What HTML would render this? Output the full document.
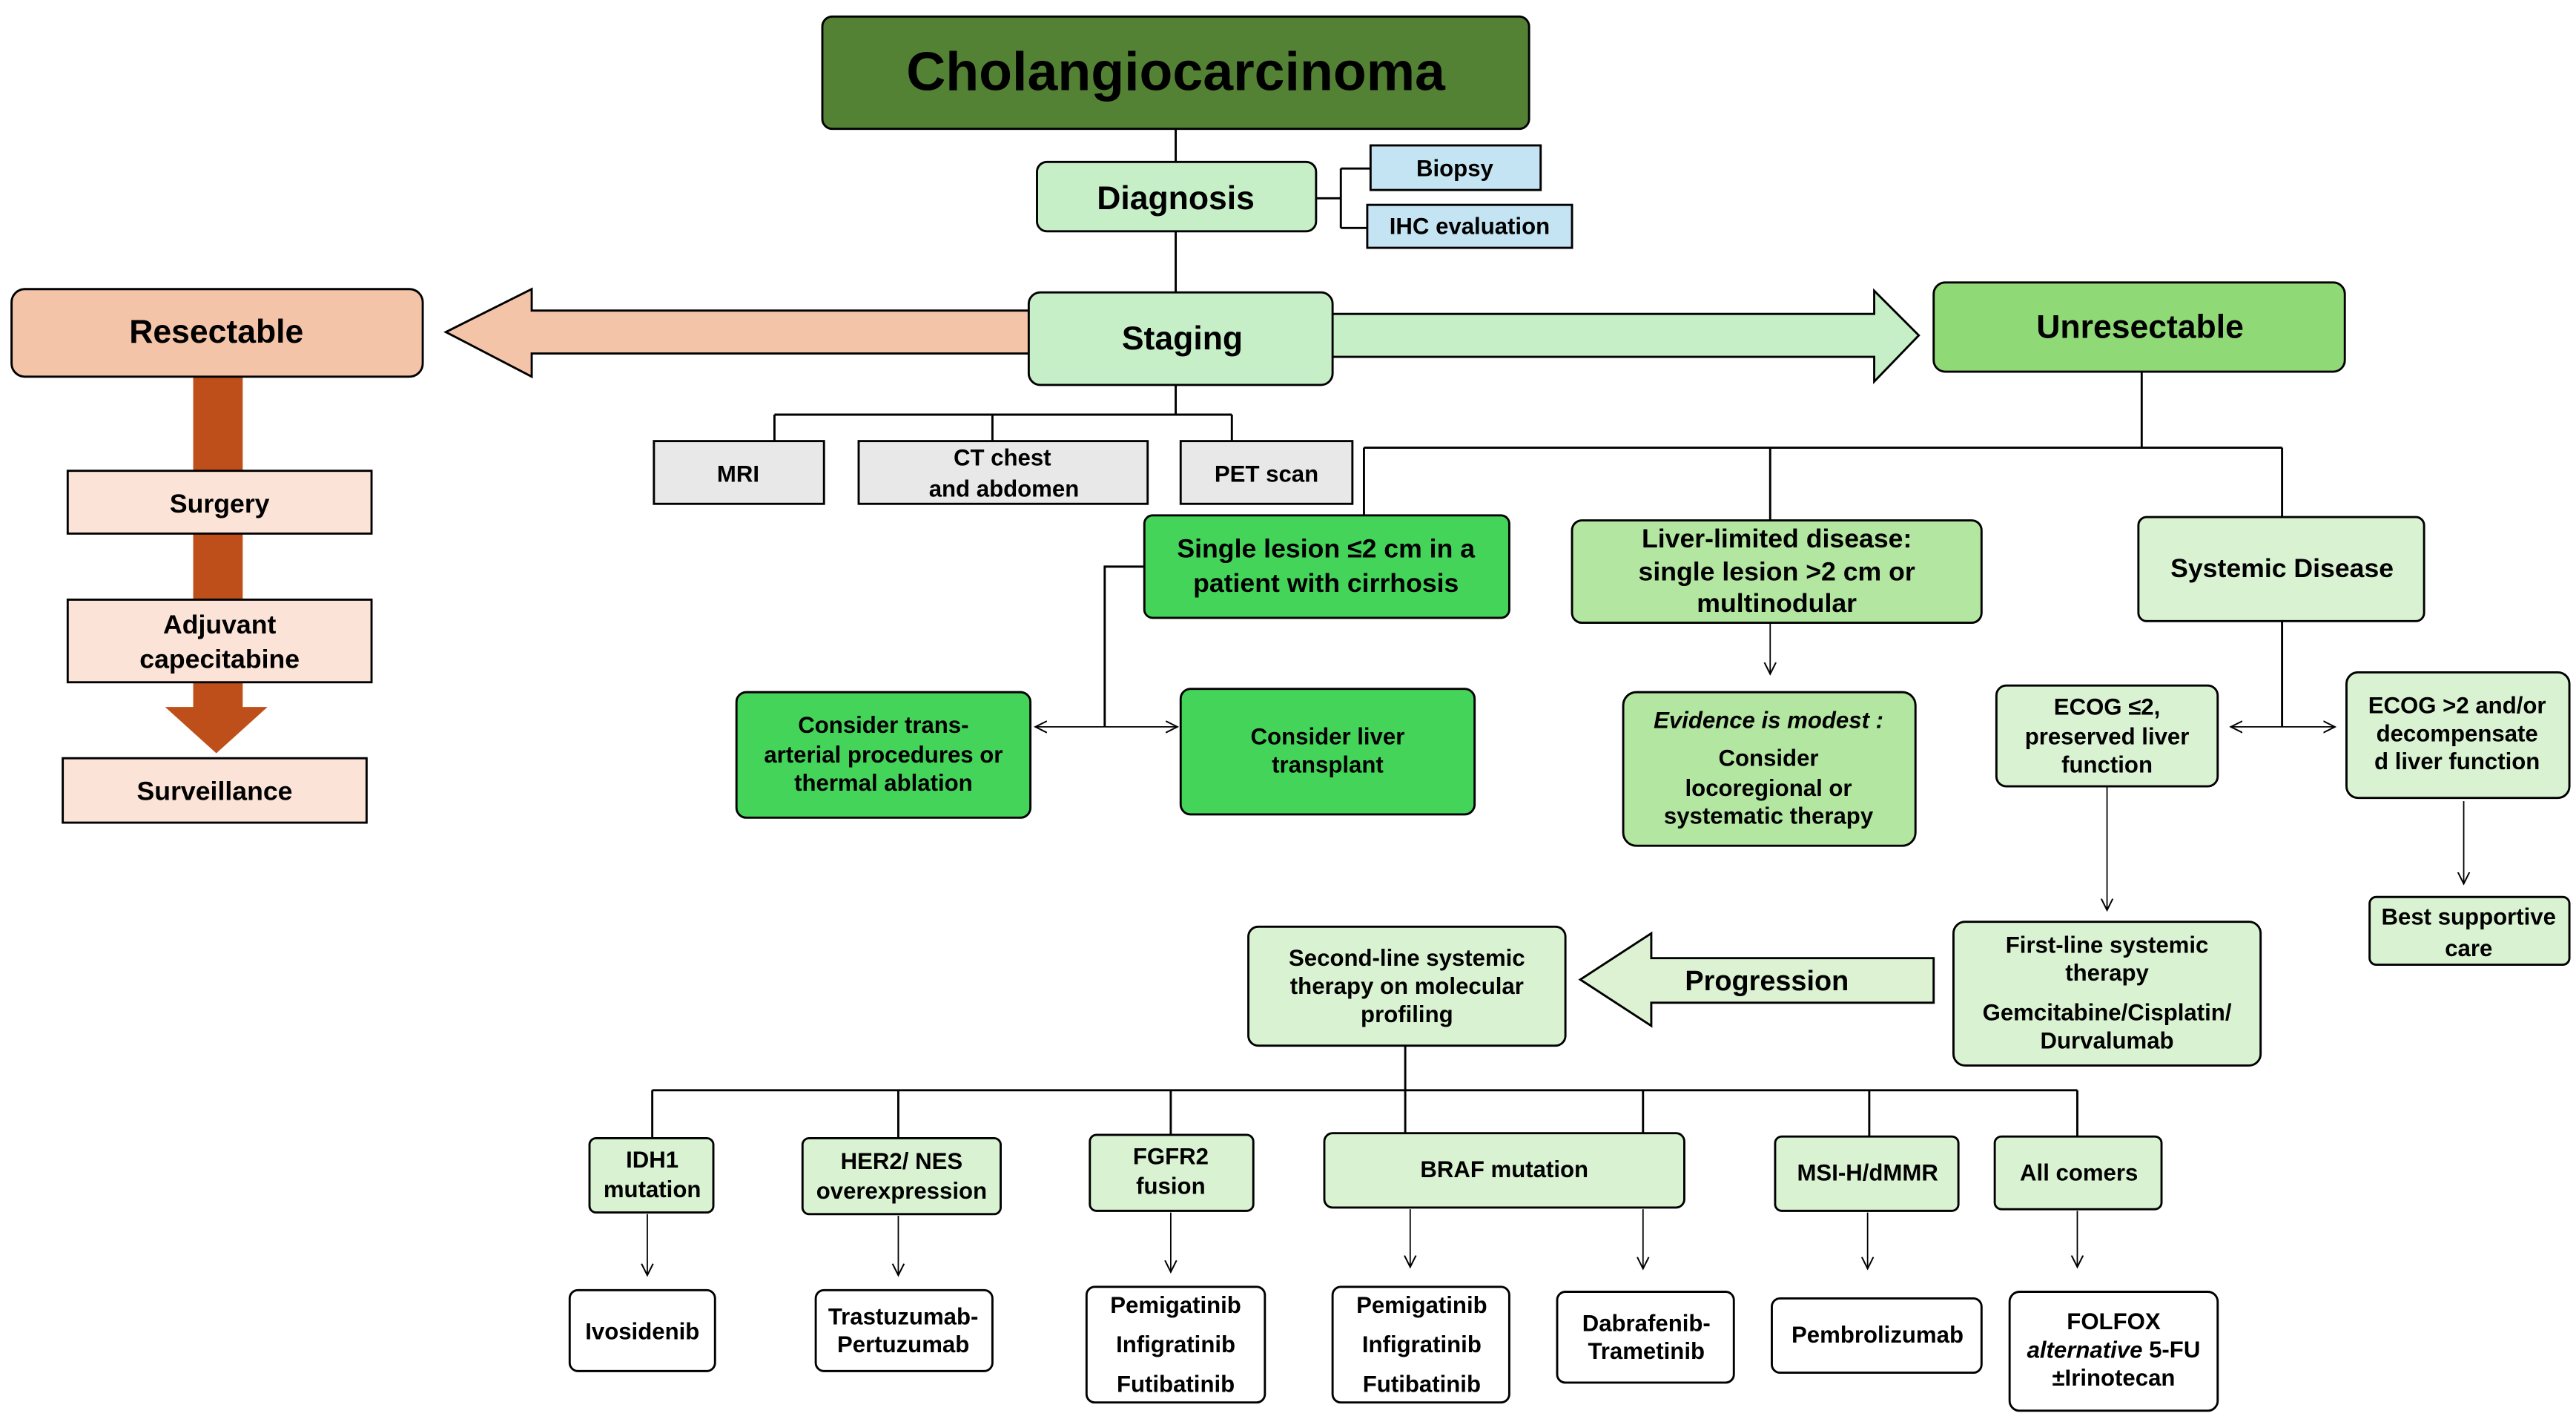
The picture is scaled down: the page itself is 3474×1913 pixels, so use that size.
<!DOCTYPE html>
<html><head><meta charset="utf-8"><style>
html,body{margin:0;padding:0;background:#fff;}
svg{display:block;}
text{font-family:"Liberation Sans","DejaVu Sans",sans-serif;font-weight:bold;fill:#000;text-anchor:middle;dominant-baseline:central;}
.b{stroke:#000;stroke-width:1.3;}
.l{stroke:#000;stroke-width:1.3;fill:none;}
.t{stroke:#000;stroke-width:0.8;fill:none;}
</style></head><body>
<svg width="3474" height="1913" viewBox="0 0 1560 859" xmlns="http://www.w3.org/2000/svg">
<defs><marker id="a" markerWidth="8" markerHeight="8" refX="7" refY="4" orient="auto" markerUnits="userSpaceOnUse"><path d="M0,0.5 L7,4 L0,7.5" fill="none" stroke="#000" stroke-width="0.9"/></marker></defs>

<!-- connectors -->
<path class="l" d="M712,78V98M712,140V177M797,120H812M812,102V138M812,102H830M812,138H828"/>
<path class="l" d="M712,233V251M469,251H746M469,251V267M601,251V267M746,251V267"/>
<path class="l" d="M1297,225V271M826,271H1382M826,271V312M1072,271V315M1382,271V313"/>
<path class="l" d="M693,343H669V440"/>
<path class="t" d="M669,440H627" marker-end="url(#a)"/><path class="t" d="M669,440H713" marker-end="url(#a)"/>
<path class="t" d="M1072,377V408" marker-end="url(#a)"/>
<path class="l" d="M1382,376V440"/>
<path class="t" d="M1382,440H1351" marker-end="url(#a)"/><path class="t" d="M1382,440H1414" marker-end="url(#a)"/>
<path class="t" d="M1276,476V551" marker-end="url(#a)"/>
<path class="t" d="M1492,485V535" marker-end="url(#a)"/>
<path class="l" d="M851,633V688M395,660H1258M395,660V689M544,660V689M709,660V687M995,660V686M1132,660V688M1258,660V688"/>
<path class="t" d="M392,735V772" marker-end="url(#a)"/>
<path class="t" d="M544,736V772" marker-end="url(#a)"/>
<path class="t" d="M709,734V770" marker-end="url(#a)"/>
<path class="t" d="M854,732V767" marker-end="url(#a)"/>
<path class="t" d="M995,732V768" marker-end="url(#a)"/>
<path class="t" d="M1131,734V768" marker-end="url(#a)"/>
<path class="t" d="M1258,733V767" marker-end="url(#a)"/>

<!-- big arrows -->
<path class="b" fill="#f4c4a9" d="M630,188H322V175L270,201L322,228V214H630Z"/>
<path class="b" fill="#c6efc8" d="M800,190H1135V176L1162,203L1135,231V216H800Z"/>
<path fill="#bf4f1a" d="M117,228H147V428H162L131,456L100,428H117Z"/>
<path class="b" fill="#dcf2d2" d="M1171,580H1000V565L957,593L1000,621V607H1171Z"/>
<text x="1070" y="594" font-size="17">Progression</text>

<!-- top -->
<rect class="b" x="498" y="10" width="428" height="68" rx="6" fill="#548235"/>
<text x="712" y="43" font-size="33">Cholangiocarcinoma</text>
<rect class="b" x="628" y="98" width="169" height="42" rx="6" fill="#c6efc8"/>
<text x="712" y="120" font-size="20">Diagnosis</text>
<rect class="b" x="830" y="88" width="103" height="27" fill="#c5e4f3"/>
<text x="881" y="102" font-size="14">Biopsy</text>
<rect class="b" x="828" y="124" width="124" height="26" fill="#c5e4f3"/>
<text x="890" y="137" font-size="14">IHC evaluation</text>
<rect class="b" x="623" y="177" width="184" height="56" rx="7" fill="#c6efc8"/>
<text x="716" y="205" font-size="20">Staging</text>

<rect class="b" x="7" y="175" width="249" height="53" rx="8" fill="#f4c4a9"/>
<text x="131" y="201" font-size="20">Resectable</text>
<rect class="b" x="41" y="285" width="184" height="38" fill="#fbe4d7"/>
<text x="133" y="305" font-size="16">Surgery</text>
<rect class="b" x="41" y="363" width="184" height="50" fill="#fbe4d7"/>
<text x="133" y="378" font-size="16">Adjuvant</text>
<text x="133" y="399" font-size="16">capecitabine</text>
<rect class="b" x="38" y="459" width="184" height="39" fill="#fbe4d7"/>
<text x="130" y="479" font-size="16">Surveillance</text>

<rect class="b" x="396" y="267" width="103" height="38" fill="#e8e8e8"/>
<text x="447" y="287" font-size="14">MRI</text>
<rect class="b" x="520" y="267" width="175" height="38" fill="#e8e8e8"/>
<text x="607" y="277" font-size="14">CT chest</text>
<text x="608" y="296" font-size="14">and abdomen</text>
<rect class="b" x="715" y="267" width="104" height="38" fill="#e8e8e8"/>
<text x="767" y="287" font-size="14">PET scan</text>

<rect class="b" x="1171" y="171" width="249" height="54" rx="7" fill="#8fd977"/>
<text x="1296" y="198" font-size="20">Unresectable</text>

<rect class="b" x="693" y="312" width="221" height="62" rx="5" fill="#45d45a"/>
<text x="803" y="332" font-size="16">Single lesion ≤2 cm in a</text>
<text x="803" y="353" font-size="16">patient with cirrhosis</text>
<rect class="b" x="952" y="315" width="248" height="62" rx="6" fill="#b3e6a1"/>
<text x="1076" y="326" font-size="16">Liver-limited disease:</text>
<text x="1076" y="346" font-size="16">single lesion &gt;2 cm or</text>
<text x="1076" y="365" font-size="16">multinodular</text>
<rect class="b" x="1295" y="313" width="173" height="63" rx="5" fill="#d9f2d1"/>
<text x="1382" y="344" font-size="16">Systemic Disease</text>

<rect class="b" x="446" y="419" width="178" height="76" rx="6" fill="#45d45a"/>
<text x="535" y="439" font-size="14">Consider trans-</text>
<text x="535" y="457" font-size="14">arterial procedures or</text>
<text x="535" y="474" font-size="14">thermal ablation</text>
<rect class="b" x="715" y="417" width="178" height="76" rx="6" fill="#45d45a"/>
<text x="804" y="446" font-size="14">Consider liver</text>
<text x="804" y="463" font-size="14">transplant</text>
<rect class="b" x="983" y="419" width="177" height="93" rx="8" fill="#b3e6a1"/>
<text x="1071" y="436" font-size="14" font-style="italic">Evidence is modest :</text>
<text x="1071" y="459" font-size="14">Consider</text>
<text x="1071" y="477" font-size="14">locoregional or</text>
<text x="1071" y="494" font-size="14">systematic therapy</text>

<rect class="b" x="1209" y="415" width="134" height="61" rx="6" fill="#d9f2d1"/>
<text x="1276" y="428" font-size="14">ECOG ≤2,</text>
<text x="1276" y="446" font-size="14">preserved liver</text>
<text x="1276" y="463" font-size="14">function</text>
<rect class="b" x="1421" y="407" width="135" height="76" rx="7" fill="#d9f2d1"/>
<text x="1488" y="427" font-size="14">ECOG &gt;2 and/or</text>
<text x="1488" y="444" font-size="14">decompensate</text>
<text x="1488" y="461" font-size="14">d liver function</text>
<rect class="b" x="1435" y="543" width="121" height="41" rx="4" fill="#d9f2d1"/>
<text x="1495" y="555" font-size="14">Best supportive</text>
<text x="1495" y="574" font-size="14">care</text>
<rect class="b" x="1183" y="558" width="186" height="87" rx="7" fill="#d9f2d1"/>
<text x="1276" y="572" font-size="14">First-line systemic</text>
<text x="1276" y="589" font-size="14">therapy</text>
<text x="1276" y="613" font-size="14">Gemcitabine/Cisplatin/</text>
<text x="1276" y="630" font-size="14">Durvalumab</text>
<rect class="b" x="756" y="561" width="192" height="72" rx="6" fill="#d9f2d1"/>
<text x="852" y="580" font-size="14">Second-line systemic</text>
<text x="852" y="597" font-size="14">therapy on molecular</text>
<text x="852" y="614" font-size="14">profiling</text>

<rect class="b" x="357" y="689" width="75" height="45" rx="4" fill="#d9f2d1"/>
<text x="395" y="702" font-size="14">IDH1</text><text x="395" y="720" font-size="14">mutation</text>
<rect class="b" x="486" y="689" width="120" height="46" rx="4" fill="#d9f2d1"/>
<text x="546" y="703" font-size="14">HER2/ NES</text><text x="546" y="721" font-size="14">overexpression</text>
<rect class="b" x="660" y="687" width="99" height="46" rx="4" fill="#d9f2d1"/>
<text x="709" y="700" font-size="14">FGFR2</text><text x="709" y="718" font-size="14">fusion</text>
<rect class="b" x="802" y="686" width="218" height="45" rx="5" fill="#d9f2d1"/>
<text x="911" y="708" font-size="14">BRAF mutation</text>
<rect class="b" x="1075" y="688" width="111" height="45" rx="4" fill="#d9f2d1"/>
<text x="1131" y="710" font-size="14">MSI-H/dMMR</text>
<rect class="b" x="1208" y="688" width="101" height="44" rx="4" fill="#d9f2d1"/>
<text x="1259" y="710" font-size="14">All comers</text>

<rect class="b" x="345" y="781" width="88" height="49" rx="5" fill="#fff"/>
<text x="389" y="806" font-size="14">Ivosidenib</text>
<rect class="b" x="494" y="781" width="107" height="49" rx="5" fill="#fff"/>
<text x="547" y="797" font-size="14">Trastuzumab-</text><text x="547" y="814" font-size="14">Pertuzumab</text>
<rect class="b" x="658" y="779" width="108" height="70" rx="5" fill="#fff"/>
<text x="712" y="790" font-size="14">Pemigatinib</text><text x="712" y="814" font-size="14">Infigratinib</text><text x="712" y="838" font-size="14">Futibatinib</text>
<rect class="b" x="807" y="779" width="107" height="70" rx="5" fill="#fff"/>
<text x="861" y="790" font-size="14">Pemigatinib</text><text x="861" y="814" font-size="14">Infigratinib</text><text x="861" y="838" font-size="14">Futibatinib</text>
<rect class="b" x="943" y="782" width="107" height="55" rx="5" fill="#fff"/>
<text x="997" y="801" font-size="14">Dabrafenib-</text><text x="997" y="818" font-size="14">Trametinib</text>
<rect class="b" x="1073" y="786" width="127" height="45" rx="5" fill="#fff"/>
<text x="1137" y="808" font-size="14">Pembrolizumab</text>
<rect class="b" x="1217" y="782" width="126" height="72" rx="6" fill="#fff"/>
<text x="1280" y="800" font-size="14">FOLFOX</text>
<text x="1280" y="817" font-size="14"><tspan font-style="italic">alternative</tspan> 5-FU</text>
<text x="1280" y="834" font-size="14">±Irinotecan</text>
</svg>
</body></html>
